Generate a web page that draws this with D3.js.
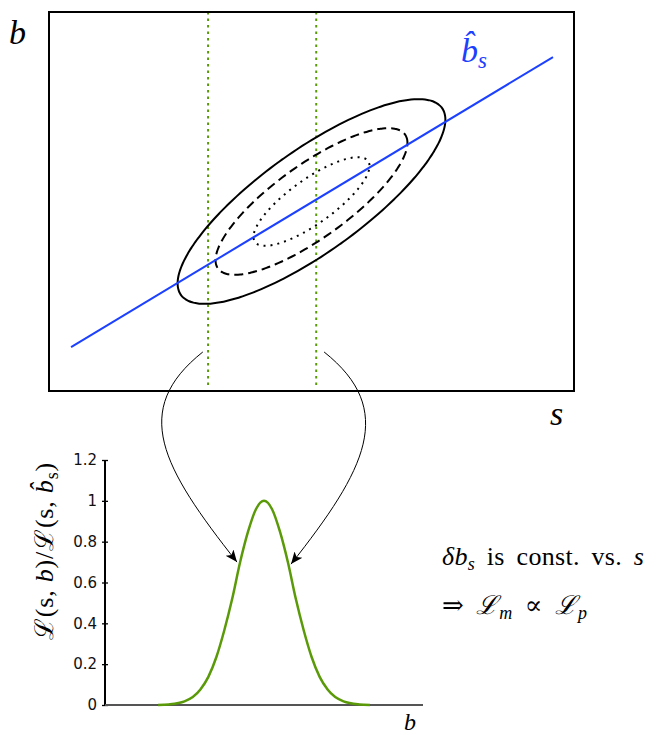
<!DOCTYPE html>
<html>
<head>
<meta charset="utf-8">
<script src="https://cdn.jsdelivr.net/npm/d3@7"></script>
<style>
  body { margin: 0; background: #fff; }
</style>
</head>
<body>
<script>
// top panel: likelihood contours in (s, b)
var sDomain = [0, 10];
var bDomain = [0, 10];
var fitCenter = [5, 5];            // s, b at the maximum
var sigmaS = 0.85, sigmaB = 0.90, rho = 0.80;
var contourLevels = [3, 2.15, 1.3];
var contourDash = ["none", "9,5", "2,5"];
var profileS = [0.42, 9.6];        // b-hat_s line
var profileB = [1.16, 8.81];
var sliceS = [3.03, 5.09];         // green dotted slices

// bottom panel: profile ratio vs b
var likeB   = [1.67, 2.0, 2.5, 3.0, 3.25, 3.5, 3.75, 4.0, 4.25, 4.5, 4.75, 5.0,
               5.25, 5.5, 5.75, 6.0, 6.25, 6.5, 6.75, 7.0, 7.5, 8.0, 8.33];
var likeVal = [0.0, 0.003, 0.018, 0.076, 0.138, 0.234, 0.365, 0.52, 0.70, 0.85, 0.96, 1.0,
               0.96, 0.85, 0.70, 0.52, 0.365, 0.234, 0.138, 0.076, 0.018, 0.003, 0.0];
var yTicks = [0, 0.2, 0.4, 0.6, 0.8, 1, 1.2];

var width = 656, height = 735;
var green = "#5a9a08", blue = "#1c40ff";
var serif = "Liberation Serif, DejaVu Serif, serif";

var svg = d3.select("body").append("svg")
  .attr("width", width)
  .attr("height", height)
  .style("font-family", serif);

var defs = svg.append("defs");
defs.append("marker")
  .attr("id", "head")
  .attr("viewBox", "0 0 10 10")
  .attr("refX", 10).attr("refY", 5)
  .attr("markerWidth", 12).attr("markerHeight", 12)
  .attr("markerUnits", "userSpaceOnUse")
  .attr("orient", "auto")
  .append("path")
  .attr("d", "M0,0.8 L10,5 L0,9.2 L2.5,5 Z")
  .attr("fill", "#000");

var sx = d3.scaleLinear().domain(sDomain).range([49, 574]);
var by = d3.scaleLinear().domain(bDomain).range([391, 12]);

var xb = d3.scaleLinear().domain([0, 10]).range([105, 423]);
var yl = d3.scaleLinear().domain([0, 1.2]).range([705, 460]);

// slices
sliceS.forEach(function(s) {
  svg.append("line")
    .attr("x1", sx(s)).attr("x2", sx(s))
    .attr("y1", by(10)).attr("y2", by(0.1))
    .attr("stroke", green)
    .attr("stroke-width", 2)
    .attr("stroke-dasharray", "2.5,4");
});

// contours
contourLevels.forEach(function(k, i) {
  var pts = d3.range(0, 360, 2).map(function(a) {
    var t = a * Math.PI / 180;
    var s = fitCenter[0] + k * sigmaS * Math.cos(t);
    var b = fitCenter[1] + k * sigmaB * (rho * Math.cos(t) + Math.sqrt(1 - rho * rho) * Math.sin(t));
    return [sx(s), by(b)];
  });
  svg.append("path")
    .attr("d", d3.line().curve(d3.curveCardinalClosed)(pts))
    .attr("fill", "none")
    .attr("stroke", "#000")
    .attr("stroke-width", 2)
    .attr("stroke-dasharray", contourDash[i]);
});

// b-hat line
svg.append("line")
  .attr("x1", sx(profileS[0])).attr("y1", by(profileB[0]))
  .attr("x2", sx(profileS[1])).attr("y2", by(profileB[1]))
  .attr("stroke", blue)
  .attr("stroke-width", 2);

// frame
svg.append("rect")
  .attr("x", sx(0)).attr("y", by(10))
  .attr("width", sx(10) - sx(0))
  .attr("height", by(0) - by(10))
  .attr("fill", "none")
  .attr("stroke", "#000")
  .attr("stroke-width", 2);

svg.append("text").attr("x", 9).attr("y", 44)
  .attr("font-size", 34).attr("font-style", "italic").text("b");
svg.append("text").attr("x", 550).attr("y", 425)
  .attr("font-size", 34).attr("font-style", "italic").text("s");

var bh = svg.append("text").attr("x", 461).attr("y", 62)
  .attr("font-size", 34).attr("fill", blue).attr("font-style", "italic");
bh.append("tspan").text("b\u0302");
bh.append("tspan").attr("font-size", 23).attr("dy", 6).text("s");

// bottom panel
var yAxis = d3.axisLeft(yl)
  .tickValues(yTicks)
  .tickSize(3)
  .tickPadding(5)
  .tickFormat(function(d) { return String(+d.toFixed(1)); });

var ga = svg.append("g")
  .attr("transform", "translate(" + xb(0) + ",0)")
  .call(yAxis);
ga.select(".domain").remove();
ga.selectAll(".tick line").attr("x1", 3).attr("stroke-width", 1.3);
ga.selectAll(".tick text")
  .style("font-family", "DejaVu Sans, sans-serif")
  .style("font-size", "15px")
  .attr("fill", "#111");

svg.append("line")
  .attr("x1", xb(0)).attr("x2", xb(0))
  .attr("y1", yl(1.2)).attr("y2", yl(0))
  .attr("stroke", "#000").attr("stroke-width", 2);
svg.append("line")
  .attr("x1", xb(0)).attr("x2", xb(10))
  .attr("y1", yl(0)).attr("y2", yl(0))
  .attr("stroke", "#555").attr("stroke-width", 2);

var curve = likeB.map(function(b, i) { return [xb(b), yl(likeVal[i])]; });
svg.append("path")
  .attr("d", d3.line().curve(d3.curveMonotoneX)(curve))
  .attr("fill", "none")
  .attr("stroke", green)
  .attr("stroke-width", 2.5);

// arrows from slices to the curve
var arrows = [
  { from: [2.93, 1.03], to: [4.15, 0.70], h1: [-73, 58], h2: [-75, -95] },
  { from: [5.24, 1.03], to: [5.85, 0.69], h1: [73, 58],  h2: [75, -95] }
];
arrows.forEach(function(a) {
  var p0 = [sx(a.from[0]), by(a.from[1])];
  var p3 = [xb(a.to[0]), yl(a.to[1])];
  var p = d3.path();
  p.moveTo(p0[0], p0[1]);
  p.bezierCurveTo(p0[0] + a.h1[0], p0[1] + a.h1[1],
                  p3[0] + a.h2[0], p3[1] + a.h2[1],
                  p3[0], p3[1]);
  svg.append("path")
    .attr("d", p.toString())
    .attr("fill", "none")
    .attr("stroke", "#000")
    .attr("stroke-width", 1)
    .attr("marker-end", "url(#head)");
});

svg.append("text").attr("x", 404).attr("y", 730)
  .attr("font-size", 24).attr("font-style", "italic").text("b");

// y label
var yl1 = svg.append("text")
  .attr("transform", "translate(53,551) rotate(-90)")
  .attr("text-anchor", "middle")
  .attr("font-size", 26)
  .attr("letter-spacing", 0.8);
yl1.append("tspan").text("\u2112(s, ");
yl1.append("tspan").attr("font-style", "italic").text("b");
yl1.append("tspan").text(")/\u2112(s, ");
yl1.append("tspan").attr("font-style", "italic").text("b\u0302");
yl1.append("tspan").attr("font-size", 18).attr("dy", 5).text("s");
yl1.append("tspan").attr("dy", -5).text(")");

// side note
var n1 = svg.append("text").attr("x", 442).attr("y", 565)
  .attr("font-size", 26).attr("letter-spacing", 0.3).attr("word-spacing", 5);
n1.append("tspan").attr("font-style", "italic").text("\u03b4b");
n1.append("tspan").attr("font-style", "italic").attr("font-size", 18).attr("dy", 5).text("s");
n1.append("tspan").attr("dy", -5).text(" is const. vs. ");
n1.append("tspan").attr("font-style", "italic").text("s");

var n2 = svg.append("text").attr("x", 442).attr("y", 614)
  .attr("font-size", 26).attr("letter-spacing", 1).attr("word-spacing", 4);
n2.append("tspan").text("\u21d2 ");
n2.append("tspan").attr("font-style", "italic").text("\u2112");
n2.append("tspan").attr("font-style", "italic").attr("font-size", 18).attr("dy", 5).text("m");
n2.append("tspan").attr("dy", -5).text(" \u221d ");
n2.append("tspan").attr("font-style", "italic").text("\u2112");
n2.append("tspan").attr("font-style", "italic").attr("font-size", 18).attr("dy", 5).text("p");
</script>
</body>
</html>
